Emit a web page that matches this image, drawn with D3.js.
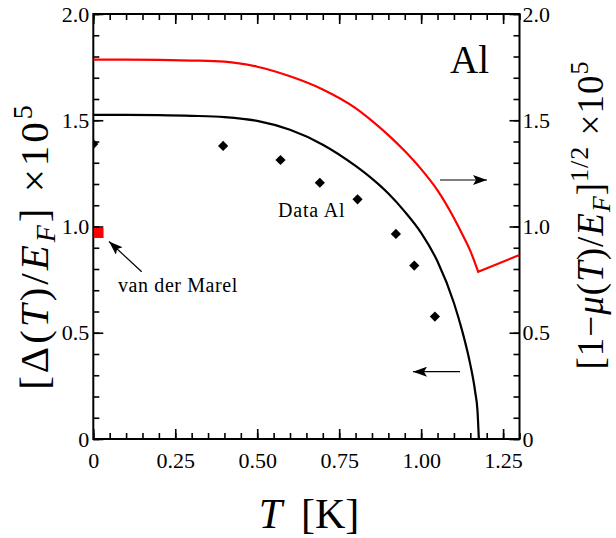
<!DOCTYPE html>
<html>
<head>
<meta charset="utf-8">
<title>Al gap</title>
<script src="https://d3js.org/d3.v7.min.js"></script>
<style>
  body { margin: 0; background: #fff; }
  text { font-family: "Liberation Serif", "Times New Roman", serif; fill: #000; }
</style>
</head>
<body>
<script>
// black curve: Delta(T)/E_F x 1e5 (left axis), then zero above Tc
var gapT   = [0, 0.1, 0.2, 0.3, 0.4, 0.5, 0.6, 0.7, 0.8, 0.85, 0.9, 0.95, 1.0, 1.05, 1.1, 1.125, 1.15, 1.165, 1.172, 1.176];
var gapVal = [1.525, 1.525, 1.524, 1.521, 1.515, 1.497, 1.455, 1.385, 1.285, 1.225, 1.155, 1.07, 0.97, 0.835, 0.64, 0.51, 0.35, 0.22, 0.13, 0];
var normalT = [1.176, 1.3], normalVal = [0, 0];

// red curve: [1 - mu(T)/E_F]^(1/2) x 1e5 (right axis)
var muT   = [0, 0.1, 0.2, 0.3, 0.4, 0.5, 0.6, 0.7, 0.8, 0.85, 0.9, 0.95, 1.0, 1.05, 1.1, 1.125, 1.15, 1.174];
var muVal = [1.785, 1.785, 1.784, 1.781, 1.776, 1.752, 1.707, 1.645, 1.557, 1.497, 1.43, 1.355, 1.27, 1.17, 1.04, 0.965, 0.885, 0.787];
var muNormT = [1.174, 1.3], muNormVal = [0.787, 0.866];

// experimental points
var dataT   = [0, 0.396, 0.571, 0.691, 0.806, 0.923, 0.979, 1.042];
var dataVal = [1.388, 1.379, 1.313, 1.206, 1.128, 0.965, 0.816, 0.576];

var marelT = [0.016], marelVal = [0.97];

var xMajor = [0, 0.25, 0.5, 0.75, 1.0, 1.25];
var xLabels = ["0", "0.25", "0.50", "0.75", "1.00", "1.25"];
var yMajor = [0, 0.5, 1.0, 1.5, 2.0];
var yLabels = ["0", "0.5", "1.0", "1.5", "2.0"];

var W = 616, H = 538;
var L = 93.3, R = 519.5, T = 14, B = 439;

var svg = d3.select("body").append("svg").attr("width", W).attr("height", H);

var x = d3.scaleLinear().domain([0, 1.3]).range([L, R]);
var y = d3.scaleLinear().domain([0, 2]).range([B, T]);
var y2 = d3.scaleLinear().domain([0, 2]).range([B, T]);

svg.append("clipPath").attr("id", "plot")
  .append("rect").attr("x", L).attr("y", T).attr("width", R - L).attr("height", B - T);

var xMinor = d3.range(0, 27).map(function(i) { return i * 0.05; }).filter(function(v) { return v <= 1.3; });
var yMinor = d3.range(0, 21).map(function(i) { return i * 0.1; });

function styleAxis(g) {
  g.select(".domain").remove();
  g.selectAll("line").attr("stroke", "#000").attr("stroke-width", 1.6);
  g.selectAll("text").style("font-size", "22px").style("font-family", "Liberation Serif");
}

// minor ticks
svg.append("g").attr("transform", "translate(0," + B + ")")
  .call(d3.axisBottom(x).tickValues(xMinor).tickSize(-6).tickFormat("")).call(styleAxis);
svg.append("g").attr("transform", "translate(0," + T + ")")
  .call(d3.axisTop(x).tickValues(xMinor).tickSize(-6).tickFormat("")).call(styleAxis);
svg.append("g").attr("transform", "translate(" + L + ",0)")
  .call(d3.axisLeft(y).tickValues(yMinor).tickSize(-6).tickFormat("")).call(styleAxis);
svg.append("g").attr("transform", "translate(" + R + ",0)")
  .call(d3.axisRight(y2).tickValues(yMinor).tickSize(-6).tickFormat("")).call(styleAxis);

// major ticks + labels
svg.append("g").attr("transform", "translate(0," + B + ")")
  .call(d3.axisBottom(x).tickValues(xMajor).tickSize(-10).tickPadding(13)
    .tickFormat(function(d, i) { return xLabels[i]; })).call(styleAxis);
svg.append("g").attr("transform", "translate(0," + T + ")")
  .call(d3.axisTop(x).tickValues(xMajor).tickSize(-10).tickFormat("")).call(styleAxis);
svg.append("g").attr("transform", "translate(" + L + ",0)")
  .call(d3.axisLeft(y).tickValues(yMajor).tickSize(-10).tickPadding(4)
    .tickFormat(function(d, i) { return yLabels[i]; })).call(styleAxis);
svg.append("g").attr("transform", "translate(" + R + ",0)")
  .call(d3.axisRight(y2).tickValues(yMajor).tickSize(-10).tickPadding(3)
    .tickFormat(function(d, i) { return yLabels[i]; })).call(styleAxis);

// frame
svg.append("rect").attr("x", L).attr("y", T).attr("width", R - L).attr("height", B - T)
  .attr("fill", "none").attr("stroke", "#000").attr("stroke-width", 2);

var plot = svg.append("g").attr("clip-path", "url(#plot)");

var smooth = d3.line().curve(d3.curveMonotoneX);
var straight = d3.line();

function pts(xs, ys, sy) {
  return d3.zip(xs, ys).map(function(d) { return [x(d[0]), sy(d[1])]; });
}

plot.append("path").attr("d", smooth(pts(gapT, gapVal, y)))
  .attr("fill", "none").attr("stroke", "#000").attr("stroke-width", 2.2);
plot.append("path").attr("d", straight(pts(normalT, normalVal, y)))
  .attr("fill", "none").attr("stroke", "#000").attr("stroke-width", 2.2);

plot.append("path").attr("d", smooth(pts(muT, muVal, y2)) + straight(pts(muNormT, muNormVal, y2)).replace("M", "L"))
  .attr("fill", "none").attr("stroke", "#f00").attr("stroke-width", 2.2).attr("stroke-linejoin", "miter");

plot.selectAll(".dia").data(d3.zip(dataT, dataVal)).enter().append("path")
  .attr("d", d3.symbol().type(d3.symbolSquare).size(52))
  .attr("transform", function(d) { return "translate(" + x(d[0]) + "," + y(d[1]) + ") rotate(45)"; })
  .attr("fill", "#000");

plot.selectAll(".sq").data(d3.zip(marelT, marelVal)).enter().append("path")
  .attr("d", d3.symbol().type(d3.symbolSquare).size(100))
  .attr("transform", function(d) { return "translate(" + x(d[0]) + "," + y(d[1]) + ")"; })
  .attr("fill", "#f00");

// arrows
svg.append("defs").append("marker").attr("id", "head")
  .attr("viewBox", "0 0 14 10").attr("refX", 14).attr("refY", 5)
  .attr("markerWidth", 14).attr("markerHeight", 10).attr("markerUnits", "userSpaceOnUse")
  .attr("orient", "auto")
  .append("path").attr("d", "M0,0 L14,5 L0,10 L3,5 Z").attr("fill", "#000");

function arrow(x1, y1, x2, y2) {
  svg.append("line").attr("x1", x1).attr("y1", y1).attr("x2", x2).attr("y2", y2)
    .attr("stroke", "#000").attr("stroke-width", 1.2).attr("marker-end", "url(#head)");
}
arrow(440, 180, 487, 180);
arrow(460, 371.7, 413, 371.7);
arrow(141.7, 271.7, 109, 241.5);

svg.append("text").attr("x", 118).attr("y", 291.7).style("font-size", "20px").style("letter-spacing", "0.6px").text("van der Marel");
svg.append("text").attr("x", 278).attr("y", 216.7).style("font-size", "20px").style("letter-spacing", "0.8px").text("Data Al");
svg.append("text").attr("x", 450).attr("y", 73.3).style("font-size", "39px").text("Al");

// axis titles
var xt = svg.append("text").attr("x", 309).attr("y", 528).attr("text-anchor", "middle").style("font-size", "42px");
xt.append("tspan").style("font-style", "italic").text("T");
xt.append("tspan").text("\u00a0\u2009[K]");

var lt = svg.append("text").attr("transform", "translate(48,246) rotate(-90)")
  .attr("text-anchor", "middle").style("font-size", "41px").style("letter-spacing", "3px");
lt.append("tspan").text("[\u0394(");
lt.append("tspan").style("font-style", "italic").text("T");
lt.append("tspan").text(")/");
lt.append("tspan").style("font-style", "italic").text("E");
lt.append("tspan").style("font-style", "italic").style("font-size", "28px").attr("dy", 7).text("F");
lt.append("tspan").attr("dy", -7).text("]\u00a0\u00d710");
lt.append("tspan").style("font-size", "28px").attr("dy", -16).text("5");

var rt = svg.append("text").attr("transform", "translate(603,215) rotate(-90)")
  .attr("text-anchor", "middle").style("font-size", "37px").style("letter-spacing", "1px");
rt.append("tspan").text("[1\u2212");
rt.append("tspan").style("font-style", "italic").text("\u03bc");
rt.append("tspan").text("(");
rt.append("tspan").style("font-style", "italic").text("T");
rt.append("tspan").text(")/");
rt.append("tspan").style("font-style", "italic").text("E");
rt.append("tspan").style("font-style", "italic").style("font-size", "26px").attr("dy", 7).text("F");
rt.append("tspan").attr("dy", -7).text("]");
rt.append("tspan").style("font-size", "26px").attr("dy", -15).text("1/2");
rt.append("tspan").attr("dy", 15).text("\u00a0\u00d710");
rt.append("tspan").style("font-size", "26px").attr("dy", -15).text("5");
</script>
</body>
</html>
